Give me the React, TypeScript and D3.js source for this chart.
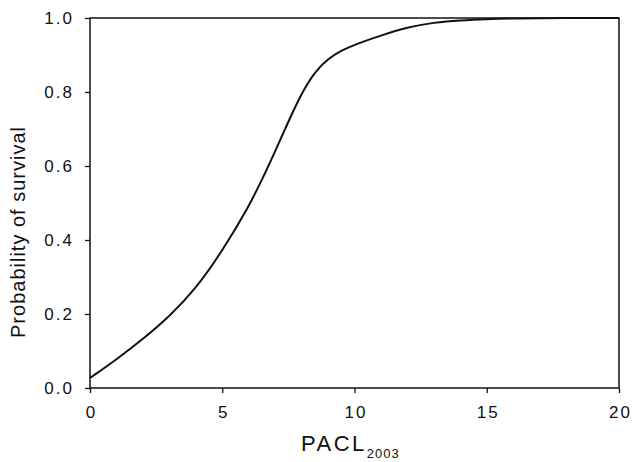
import React, { useEffect, useRef } from 'react';
import * as d3 from 'd3';

// PACL values and fitted survival probability
const pacl = [0, 1, 2, 3, 4, 5, 6, 6.5, 7, 7.5, 8, 8.5, 9, 9.5, 10, 11, 12, 13, 14, 15, 16, 18, 20];
const survival = [0.027, 0.077, 0.132, 0.193, 0.268, 0.37, 0.49, 0.562, 0.64, 0.72, 0.797, 0.855, 0.89, 0.912, 0.928, 0.953, 0.975, 0.988, 0.994, 0.997, 0.999, 1.0, 1.0];

const xTicks = [0, 5, 10, 15, 20];
const yTicks = [0, 0.2, 0.4, 0.6, 0.8, 1.0];

const App = () => {
  const ref = useRef<SVGSVGElement>(null);

  useEffect(() => {
    const svg = d3.select(ref.current);
    svg.selectAll('*').remove();

    const left = 90, right = 619, top = 18, bottom = 388;
    const font = '"Liberation Sans", Arial, sans-serif';

    const x = d3.scaleLinear().domain([0, 20]).range([left, right]);
    const y = d3.scaleLinear().domain([0, 1]).range([bottom, top]);

    // frame
    svg.append('rect')
      .attr('x', left).attr('y', top)
      .attr('width', right - left).attr('height', bottom - top)
      .attr('fill', 'none').attr('stroke', '#111').attr('stroke-width', 1.5);

    const xAxis = svg.append('g')
      .attr('transform', `translate(0,${bottom})`)
      .call(d3.axisBottom(x).tickValues(xTicks).tickSize(5).tickPadding(13).tickFormat(d3.format('d')));
    xAxis.select('.domain').remove();
    xAxis.selectAll('.tick text').attr('dx', '1px');

    const yAxis = svg.append('g')
      .attr('transform', `translate(${left},0)`)
      .call(d3.axisLeft(y).tickValues(yTicks).tickSize(5).tickPadding(11).tickFormat(d3.format('.1f')));
    yAxis.select('.domain').remove();

    svg.selectAll('.tick line').attr('stroke', '#111').attr('stroke-width', 1.3);
    svg.selectAll('.tick text')
      .attr('fill', '#111')
      .style('font-family', font)
      .style('font-size', '17px')
      .style('letter-spacing', '2px');

    const line = d3.line<number>()
      .x((_, i) => x(pacl[i]))
      .y((d) => y(d))
      .curve(d3.curveBasis);

    svg.append('path')
      .datum(survival)
      .attr('d', line)
      .attr('fill', 'none')
      .attr('stroke', '#111')
      .attr('stroke-width', 2);

    // x title with subscript
    const xt = svg.append('text')
      .attr('x', 301).attr('y', 451)
      .attr('fill', '#111')
      .style('font-family', font)
      .style('font-size', '22px')
      .style('letter-spacing', '2.5px');
    xt.append('tspan').text('PACL');
    xt.append('tspan').attr('dy', 7).style('font-size', '13px').style('letter-spacing', '1px').text('2003');

    svg.append('text')
      .attr('transform', `translate(25,232) rotate(-90)`)
      .attr('text-anchor', 'middle')
      .attr('fill', '#111')
      .style('font-family', font)
      .style('font-size', '20px')
      .style('letter-spacing', '1px')
      .text('Probability of survival');
  }, []);

  return (
    <svg ref={ref} width={632} height={462} style={{ position: 'absolute', left: 0, top: 0, background: '#fff' }} />
  );
};

export default App;
